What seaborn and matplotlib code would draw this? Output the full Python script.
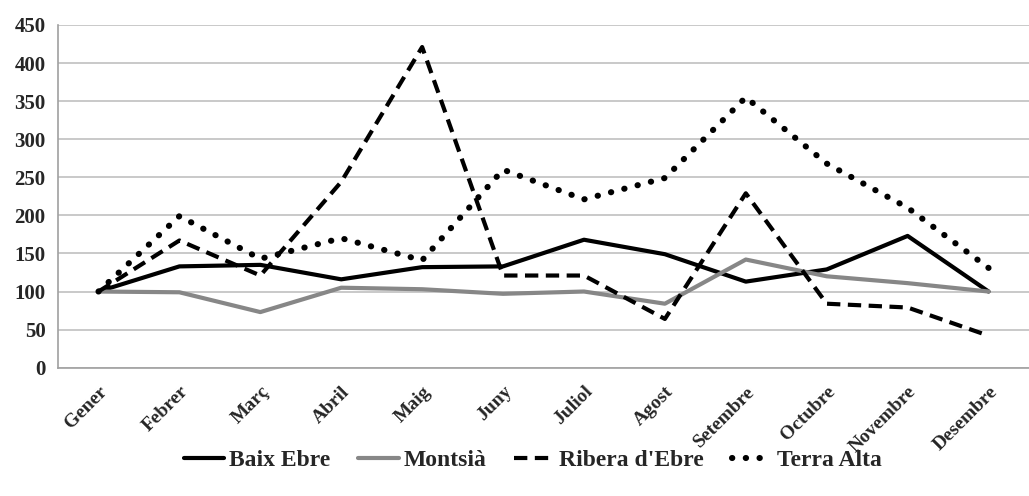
"""Evolució mensual per comarca (índex, gener = 100)."""

import matplotlib.pyplot as plt
import numpy as np
import pandas as pd
import seaborn as sns
from matplotlib.lines import Line2D
from matplotlib.ticker import FixedLocator, MultipleLocator

MONTHS = ["Gener", "Febrer", "Març", "Abril", "Maig", "Juny",
          "Juliol", "Agost", "Setembre", "Octubre", "Novembre", "Desembre"]

BAIX_EBRE = [100, 133, 135, 116, 132, 133, 168, 149, 113, 129, 173, 100]
MONTSIA = [100, 99, 73, 105, 103, 97, 100, 84, 142, 120, 111, 100]
RIBERA_EBRE = [100, 167, 121, 244, 421, 121, 121, 64, 229, 84, 79, 42]
TERRA_ALTA = [100, 199, 143, 170, 141, 260, 221, 249, 355, 268, 210, 131]

SERIES = {
    "Baix Ebre": BAIX_EBRE,
    "Montsià": MONTSIA,
    "Ribera d'Ebre": RIBERA_EBRE,
    "Terra Alta": TERRA_ALTA,
}

STYLES = {
    "Baix Ebre":     dict(color="#000000", ls="-", lw=3),
    "Montsià":       dict(color="#878787", ls="-", lw=3),
    "Ribera d'Ebre": dict(color="#000000", ls=(0, (3.2, 1.8)), lw=3),
    "Terra Alta":    dict(color="#000000", ls=(0, (0.05, 2.2)), lw=4.4),
}

sns.set_style("white")
plt.rcParams["font.family"] = ["Liberation Serif", "DejaVu Serif"]
plt.rcParams["font.weight"] = "bold"

df = pd.DataFrame(
    [(name, m, v) for name, vals in SERIES.items() for m, v in zip(MONTHS, vals)],
    columns=["serie", "mes", "valor"],
)
df["pos"] = df["mes"].map({m: i for i, m in enumerate(MONTHS)})

fig = plt.figure(figsize=(10.29, 4.96), dpi=100)
ax = fig.add_axes([0.0564, 0.2587, 0.9436, 0.691])

for name, st in STYLES.items():
    sub = df[df["serie"] == name]
    sns.lineplot(data=sub, x="pos", y="valor", ax=ax, color=st["color"],
                 linewidth=st["lw"], sort=False, legend=False)
    line = ax.lines[-1]
    line.set_linestyle(st["ls"])
    line.set_dash_capstyle("round" if name == "Terra Alta" else "butt")

ax.set_xlim(-0.5, len(MONTHS) - 0.5)
ax.set_ylim(0, 450)
ax.yaxis.set_major_locator(MultipleLocator(50))
ax.grid(axis="y", color="#c0c0c0", linewidth=1.2)
ax.set_axisbelow(True)

ax.set_xticks(np.arange(len(MONTHS)))
ax.set_xticklabels(MONTHS, rotation=45, ha="right", rotation_mode="anchor",
                   fontsize=14, fontweight="bold")
ax.xaxis.set_minor_locator(FixedLocator(np.arange(-0.5, len(MONTHS), 1)))
ax.tick_params(axis="x", which="major", length=0, pad=11)
ax.tick_params(axis="x", which="minor", length=5, color="#a0a0a0", direction="out")
ax.tick_params(axis="y", length=5, color="#a0a0a0", labelsize=15, pad=4)
for lab in ax.get_yticklabels():
    lab.set_fontweight("bold")

for side in ("top", "right"):
    ax.spines[side].set_visible(False)
for side in ("left", "bottom"):
    ax.spines[side].set_color("#a0a0a0")
    ax.spines[side].set_linewidth(1.2)
ax.set_xlabel("")
ax.set_ylabel("")

handles = []
for name, st in STYLES.items():
    h = Line2D([0], [0], color=st["color"], linestyle=st["ls"], linewidth=st["lw"])
    h.set_dash_capstyle("round" if name == "Terra Alta" else "butt")
    handles.append(h)
fig.legend(handles, list(STYLES), loc="center", bbox_to_anchor=(0.518, 0.072),
           ncol=4, frameon=False, handlelength=1.7, handletextpad=0.2,
           columnspacing=1.2, prop={"size": 17, "weight": "bold"})

fig.savefig("out.png", dpi=100)
